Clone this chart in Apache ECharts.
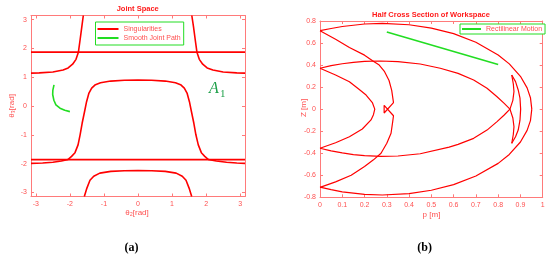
<!DOCTYPE html>
<html><head><meta charset="utf-8">
<script src="https://cdn.jsdelivr.net/npm/echarts@6/dist/echarts.min.js"></script>
<style>html,body{margin:0;padding:0;background:#fff}#c{width:550px;height:260px}</style>
</head><body><div id="c"></div>
<script>
// ---- Joint space (a): theta2 vs theta3 ----
var jointTicks = [-3, -2, -1, 0, 1, 2, 3];
var singUpperLine = [[-3.1416, 1.87], [3.1416, 1.87]];
var singLowerLine = [[-3.1416, -1.86], [3.1416, -1.86]];
var singTopLeft = [[-1.606, 3.1416], [-1.65, 2.75], [-1.70, 2.30], [-1.75, 1.87], [-1.82, 1.62], [-1.92, 1.45], [-2.05, 1.32], [-2.2, 1.25], [-2.5, 1.18], [-2.9, 1.15], [-3.1416, 1.14]];
var singTopRight = [[1.58, 3.1416], [1.63, 2.75], [1.68, 2.30], [1.73, 1.87], [1.80, 1.62], [1.90, 1.45], [2.03, 1.32], [2.2, 1.25], [2.5, 1.18], [2.9, 1.15], [3.1416, 1.14]];
var singCenter = [[-2.05, -1.855], [-1.95, -1.75], [-1.85, -1.62], [-1.76, -1.35], [-1.70, -1.0], [-1.64, -0.6], [-1.57, -0.2], [-1.51, 0.15], [-1.44, 0.45], [-1.36, 0.62], [-1.25, 0.74], [-1.1, 0.81], [-0.8, 0.865], [-0.4, 0.895], [0, 0.905], [0.4, 0.895], [0.8, 0.865], [1.1, 0.81], [1.25, 0.74], [1.36, 0.62], [1.44, 0.45], [1.51, 0.15], [1.57, -0.2], [1.64, -0.6], [1.70, -1.0], [1.77, -1.35], [1.86, -1.62], [1.96, -1.75], [2.06, -1.855]];
var singBottom = [[-1.576, -3.1416], [-1.5, -2.85], [-1.41, -2.58], [-1.3, -2.44], [-1.12, -2.33], [-0.8, -2.27], [-0.4, -2.25], [0, -2.245], [0.4, -2.25], [0.8, -2.27], [1.12, -2.33], [1.3, -2.44], [1.41, -2.58], [1.5, -2.85], [1.577, -3.1416]];
var singLowLeft = [[-3.1416, -1.99], [-2.8, -1.98], [-2.5, -1.95], [-2.25, -1.91], [-2.05, -1.855]];
var singLowRight = [[2.06, -1.855], [2.3, -1.91], [2.6, -1.95], [2.9, -1.98], [3.1416, -1.99]];
var jointPath = [[-2.466, 0.734], [-2.50, 0.55], [-2.505, 0.40], [-2.47, 0.2], [-2.41, 0.04], [-2.29, -0.077], [-2.15, -0.15], [-2.0, -0.196]];

// ---- Workspace (b): p vs Z ----
var pTicks = [0, 0.1, 0.2, 0.3, 0.4, 0.5, 0.6, 0.7, 0.8, 0.9, 1];
var zTicks = [-0.8, -0.6, -0.4, -0.2, 0, 0.2, 0.4, 0.6, 0.8];
var outerTop = [[0, 0.712], [0.05, 0.732], [0.1, 0.75], [0.2, 0.773], [0.28, 0.779], [0.4, 0.766], [0.5, 0.736], [0.6, 0.685], [0.7, 0.607], [0.8, 0.492], [0.85, 0.411], [0.9, 0.298], [0.93, 0.193], [0.945, 0.104], [0.951, 0]];
var outerBottom = [[0.951, 0], [0.945, -0.104], [0.93, -0.193], [0.9, -0.298], [0.85, -0.411], [0.8, -0.492], [0.7, -0.607], [0.6, -0.685], [0.5, -0.736], [0.4, -0.766], [0.28, -0.779], [0.2, -0.773], [0.1, -0.75], [0.05, -0.73], [0, -0.708]];
var innerUpper = [[0, 0.371], [0.05, 0.395], [0.1, 0.412], [0.15, 0.425], [0.2, 0.433], [0.27, 0.437], [0.35, 0.432], [0.45, 0.41], [0.54, 0.371], [0.62, 0.325], [0.69, 0.265], [0.75, 0.19], [0.795, 0.113], [0.826, 0.055], [0.853, 0], [0.866, -0.08], [0.871, -0.16], [0.868, -0.23], [0.861, -0.31]];
var innerCusp = [[0.861, -0.31], [0.878, -0.25], [0.89, -0.19], [0.898, -0.1], [0.901, 0], [0.898, 0.1], [0.89, 0.174], [0.878, 0.25], [0.861, 0.31]];
var innerLower = [[0.861, 0.31], [0.868, 0.23], [0.871, 0.16], [0.866, 0.08], [0.853, 0], [0.826, -0.055], [0.795, -0.113], [0.75, -0.19], [0.69, -0.265], [0.62, -0.32], [0.58, -0.345], [0.45, -0.405], [0.35, -0.425], [0.274, -0.428], [0.2, -0.422], [0.15, -0.412], [0.1, -0.397], [0.05, -0.378], [0, -0.355]];
var innerLoop = [[0, 0.371], [0.07, 0.31], [0.132, 0.249], [0.175, 0.18], [0.207, 0.128], [0.235, 0.06], [0.246, 0], [0.24, -0.05], [0.229, -0.098], [0.19, -0.18], [0.132, -0.25], [0.07, -0.305], [0, -0.355]];
var outerLoop = [[0, 0.712], [0.07, 0.635], [0.132, 0.56], [0.2, 0.49], [0.236, 0.44], [0.266, 0.40], [0.29, 0.34], [0.31, 0.26], [0.322, 0.17], [0.33, 0.06], [0.288, -0.035], [0.288, 0.035], [0.33, -0.06], [0.326, -0.12], [0.319, -0.219], [0.3, -0.31], [0.274, -0.40], [0.24, -0.46], [0.2, -0.52], [0.14, -0.6], [0.07, -0.66], [0, -0.71]];
var rectilinear = [[0.3, 0.7], [0.8, 0.405]];

var RED = '#ff0000', GREEN = '#22dd22', AXC = '#ff7a7a', LBL = '#ff5050', TTL = '#ff1a1a';
var FONT = 'Liberation Sans, Arial, sans-serif';

function axis(grid, pos, min, max, ticks, labels) {
  return {
    type: 'value', gridIndex: grid, position: pos, min: min, max: max,
    axisLine: { show: true, onZero: false, lineStyle: { color: AXC, width: 1 } },
    axisTick: { show: true, inside: true, length: 3, customValues: ticks, lineStyle: { color: AXC } },
    axisLabel: { show: labels, customValues: ticks, fontSize: 7, color: LBL, fontFamily: FONT, margin: 4 },
    splitLine: { show: false }
  };
}
function line(name, data, xi, yi, color, w) {
  return { type: 'line', name: name, data: data, xAxisIndex: xi, yAxisIndex: yi, showSymbol: false, symbol: 'none',
    lineStyle: { color: color, width: w }, itemStyle: { color: color }, silent: true, animation: false };
}
var PI = 3.14159265;
var series = [];
[singUpperLine, singLowerLine, singTopLeft, singTopRight, singCenter, singBottom, singLowLeft, singLowRight].forEach(function (d) {
  series.push(line('Singularities', d, 0, 0, RED, 1.6));
});
series.push(line('Smooth Joint Path', jointPath, 0, 0, GREEN, 1.6));
[outerTop, outerBottom, innerUpper, innerCusp, innerLower, innerLoop, outerLoop].forEach(function (d) {
  series.push(line('Workspace', d, 2, 2, RED, 1.2));
});
series.push(line('Rectilinear Motion', rectilinear, 2, 2, GREEN, 1.6));

var option = {
  animation: false,
  backgroundColor: '#fff',
  grid: [
    { left: 31, top: 15.5, width: 214, height: 181, containLabel: false },
    { left: 320, top: 21, width: 222.7, height: 176.3, containLabel: false }
  ],
  xAxis: [
    axis(0, 'bottom', -PI, PI, jointTicks, true),
    axis(0, 'top', -PI, PI, jointTicks, false),
    axis(1, 'bottom', 0, 1, pTicks, true),
    axis(1, 'top', 0, 1, pTicks, false)
  ],
  yAxis: [
    axis(0, 'left', -PI, PI, jointTicks, true),
    axis(0, 'right', -PI, PI, jointTicks, false),
    axis(1, 'left', -0.8, 0.8, zTicks, true),
    axis(1, 'right', -0.8, 0.8, zTicks, false)
  ],
  legend: [
    { data: ['Singularities', 'Smooth Joint Path'], orient: 'vertical', left: 95.5, top: 22, icon: 'rect',
      itemWidth: 21, itemHeight: 2, itemGap: 1, padding: [3, 3, 3, 2], selectedMode: false,
      borderColor: GREEN, borderWidth: 1, backgroundColor: '#fff',
      textStyle: { fontSize: 7, color: LBL, fontFamily: FONT, lineHeight: 8 } },
    { data: ['Rectilinear Motion'], orient: 'horizontal', left: 460, top: 24, icon: 'rect',
      itemWidth: 19, itemHeight: 2, padding: [1, 3, 1, 2], selectedMode: false,
      borderColor: GREEN, borderWidth: 1, backgroundColor: '#fff',
      textStyle: { fontSize: 7, color: LBL, fontFamily: FONT, lineHeight: 8 } }
  ],
  graphic: [
    { type: 'text', x: 137.7, y: 9, style: { text: 'Joint Space', fill: TTL, font: 'bold 7.5px ' + FONT, align: 'center', verticalAlign: 'middle' } },
    { type: 'text', x: 431, y: 14.7, style: { text: 'Half Cross Section of Workspace', fill: TTL, font: 'bold 7.5px ' + FONT, align: 'center', verticalAlign: 'middle' } },
    { type: 'text', x: 137, y: 213, style: { text: 'θ₂[rad]', fill: LBL, font: '8px ' + FONT, align: 'center', verticalAlign: 'middle' } },
    { type: 'text', x: 12, y: 106, rotation: Math.PI / 2, style: { text: 'θ₃[rad]', fill: LBL, font: '8px ' + FONT, align: 'center', verticalAlign: 'middle' } },
    { type: 'text', x: 431.5, y: 215, style: { text: 'p [m]', fill: LBL, font: '8px ' + FONT, align: 'center', verticalAlign: 'middle' } },
    { type: 'text', x: 304, y: 108, rotation: Math.PI / 2, style: { text: 'Z [m]', fill: LBL, font: '8px ' + FONT, align: 'center', verticalAlign: 'middle' } },
    { type: 'text', x: 209, y: 97, style: { text: 'A', fill: '#1fa04a', font: 'italic 16px Liberation Serif, serif', align: 'left', verticalAlign: 'bottom' } },
    { type: 'text', x: 220, y: 100, style: { text: '1', fill: '#1fa04a', font: '11px Liberation Serif, serif', align: 'left', verticalAlign: 'bottom' } },
    { type: 'text', x: 131.5, y: 248, style: { text: '(a)', fill: '#000', font: 'bold 12px Liberation Serif, serif', align: 'center', verticalAlign: 'middle' } },
    { type: 'text', x: 424.7, y: 248, style: { text: '(b)', fill: '#000', font: 'bold 12px Liberation Serif, serif', align: 'center', verticalAlign: 'middle' } }
  ],
  series: series
};
var chart = echarts.init(document.getElementById('c'), null, { renderer: 'canvas' });
chart.setOption(option);
</script></body></html>
